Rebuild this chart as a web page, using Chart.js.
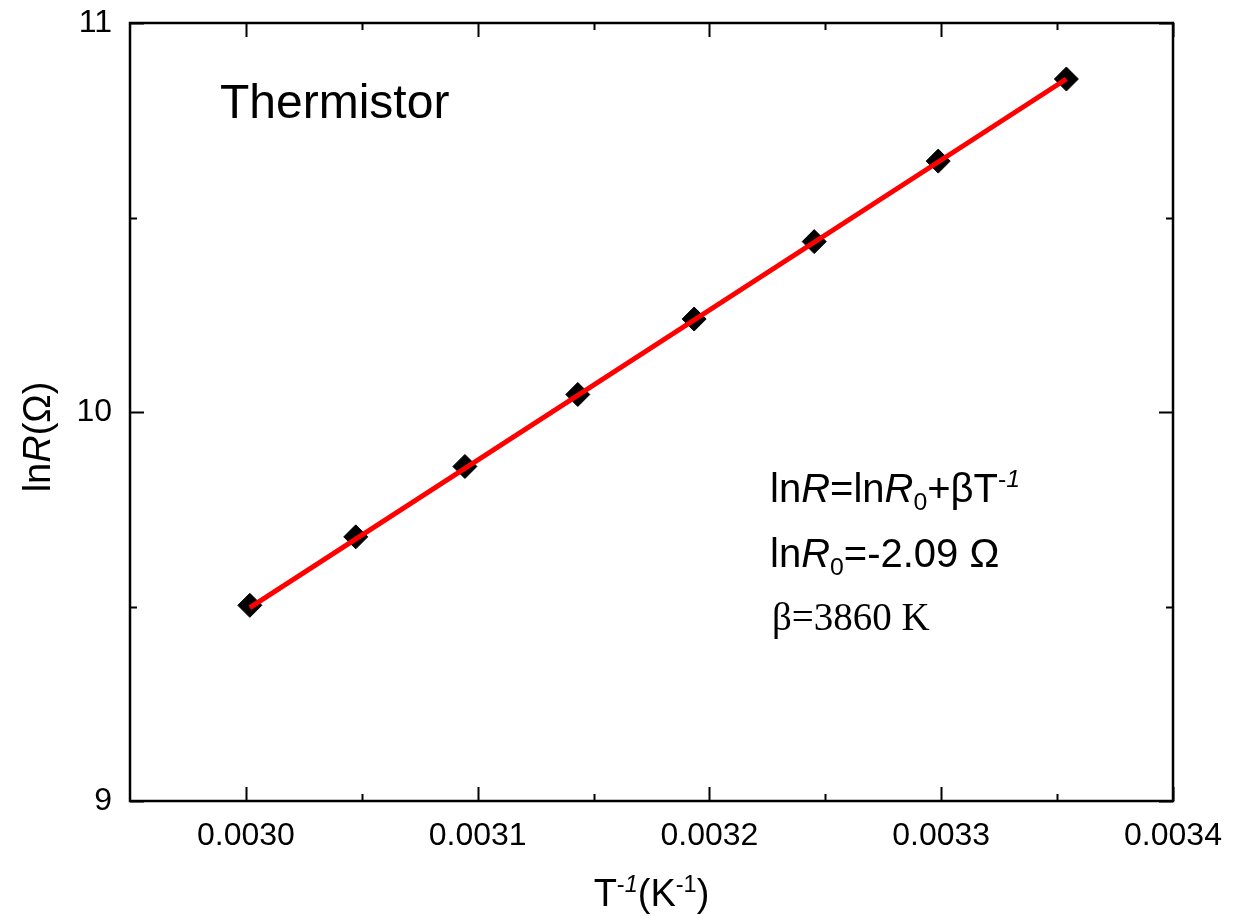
<!DOCTYPE html>
<html>
<head>
<meta charset="utf-8">
<script src="https://cdn.jsdelivr.net/npm/chart.js@4.4.1/dist/chart.umd.min.js"></script>
<style>
  html, body { margin: 0; padding: 0; background: #fff; }
  #wrap { width: 1237px; height: 916px; }
</style>
</head>
<body>
<div id="wrap"><canvas id="chart" width="1237" height="916"></canvas></div>
<script>
// 1/T (K^-1) vs ln R for the thermistor, 60 °C down to 25 °C
const invT = [0.0030017, 0.0030474, 0.0030945, 0.0031432, 0.0031934, 0.0032452, 0.0032987, 0.0033540];
const lnR = [9.503, 9.679, 9.860, 10.045, 10.239, 10.438, 10.645, 10.856];

// linear fit lnR = lnR0 + beta / T, drawn between the end points
const fitX = [0.0030017, 0.0033540];
const fitY = [9.497, 10.856];

const xTicks = [0.0030, 0.0031, 0.0032, 0.0033, 0.0034];
const xMinor = [0.00305, 0.00315, 0.00325, 0.00335];
const yTicks = [9, 10, 11];
const yMinor = [9.5, 10.5];

const SANS = '"Liberation Sans", Arial, sans-serif';
const SERIF = '"Liberation Serif", "Times New Roman", serif';

function runFont(r, size) {
  const fs = (r.sub || r.sup) ? size * 0.62 : size;
  return `${r.italic ? 'italic ' : ''}${fs}px ${r.family || SANS}`;
}

function measureRuns(ctx, runs, size) {
  let w = 0;
  for (const r of runs) {
    ctx.font = runFont(r, size);
    w += ctx.measureText(r.t).width;
  }
  return w;
}

function drawRuns(ctx, x, y, runs, size) {
  let cx = x;
  for (const r of runs) {
    ctx.font = runFont(r, size);
    const dy = r.sub ? size * 0.2 : r.sup ? -size * 0.38 : 0;
    ctx.fillText(r.t, cx, y + dy);
    cx += ctx.measureText(r.t).width;
  }
}

const xTitle = [{ t: 'T' }, { t: '-', sup: true }, { t: '1', sup: true, italic: true }, { t: '(K' }, { t: '-1', sup: true }, { t: ')' }];
const yTitle = [{ t: 'ln' }, { t: 'R', italic: true }, { t: '(Ω)' }];
const eqLines = [
  [{ t: 'ln' }, { t: 'R', italic: true }, { t: '=ln' }, { t: 'R', italic: true }, { t: '0', sub: true }, { t: '+βT' }, { t: '-', sup: true }, { t: '1', sup: true, italic: true }],
  [{ t: 'ln' }, { t: 'R', italic: true }, { t: '0', sub: true }, { t: '=-2.09 Ω' }],
  [{ t: 'β=3860 K', family: SERIF }],
];

// frame, inward ticks on all four sides, titles and the fit text
const framePlugin = {
  id: 'frame',
  afterDraw(chart) {
    const { ctx, chartArea: a, scales: { x, y } } = chart;
    ctx.save();
    ctx.strokeStyle = '#000';
    ctx.lineWidth = 2.5;
    ctx.strokeRect(a.left, a.top, a.right - a.left, a.bottom - a.top);

    ctx.lineWidth = 2;
    const major = 14, minor = 7;
    ctx.beginPath();
    const xTick = (v, len) => {
      const px = Math.round(x.getPixelForValue(v)) + 0.5;
      ctx.moveTo(px, a.bottom); ctx.lineTo(px, a.bottom - len);
      ctx.moveTo(px, a.top); ctx.lineTo(px, a.top + len);
    };
    const yTick = (v, len) => {
      const py = Math.round(y.getPixelForValue(v)) + 0.5;
      ctx.moveTo(a.left, py); ctx.lineTo(a.left + len, py);
      ctx.moveTo(a.right, py); ctx.lineTo(a.right - len, py);
    };
    xTicks.forEach((v) => xTick(v, major));
    xMinor.forEach((v) => xTick(v, minor));
    yTicks.forEach((v) => yTick(v, major));
    yMinor.forEach((v) => yTick(v, minor));
    ctx.stroke();

    ctx.fillStyle = '#000';
    ctx.textBaseline = 'alphabetic';
    ctx.textAlign = 'left';

    ctx.font = `48px ${SANS}`;
    ctx.fillText('Thermistor', 220, 118);

    const tw = measureRuns(ctx, xTitle, 38);
    drawRuns(ctx, (a.left + a.right) / 2 - tw / 2, 906, xTitle, 38);

    ctx.save();
    ctx.translate(50, 437);
    ctx.rotate(-Math.PI / 2);
    const yw = measureRuns(ctx, yTitle, 38);
    drawRuns(ctx, -yw / 2, 0, yTitle, 38);
    ctx.restore();

    drawRuns(ctx, 770, 502, eqLines[0], 40);
    drawRuns(ctx, 770, 567, eqLines[1], 40);
    drawRuns(ctx, 772, 630, eqLines[2], 39);
    ctx.restore();
  },
};

new Chart(document.getElementById('chart'), {
  type: 'scatter',
  data: {
    datasets: [
      {
        type: 'line',
        label: 'fit',
        data: fitX.map((v, i) => ({ x: v, y: fitY[i] })),
        borderColor: '#ff0000',
        borderWidth: 5,
        pointRadius: 0,
        fill: false,
        order: 0,
      },
      {
        label: 'lnR',
        data: invT.map((v, i) => ({ x: v, y: lnR[i] })),
        pointStyle: 'rectRot',
        pointRadius: 12,
        backgroundColor: '#000',
        borderColor: '#000',
        borderWidth: 1,
        order: 1,
      },
    ],
  },
  options: {
    responsive: false,
    animation: false,
    devicePixelRatio: 1,
    layout: { padding: { top: 23, right: 64, left: 0, bottom: 0 } },
    plugins: { legend: { display: false }, tooltip: { enabled: false } },
    scales: {
      x: {
        type: 'linear',
        min: 0.00295,
        max: 0.0034,
        afterBuildTicks: (s) => { s.ticks = xTicks.map((v) => ({ value: v })); },
        afterFit: (s) => { s.height = 115; s.paddingLeft = 0; s.paddingRight = 0; },
        grid: { display: false, drawTicks: false },
        border: { display: false },
        ticks: {
          color: '#000',
          padding: 16,
          font: { family: SANS, size: 32 },
          callback: (v) => Number(v).toFixed(4),
        },
      },
      y: {
        type: 'linear',
        min: 9,
        max: 11,
        afterBuildTicks: (s) => { s.ticks = yTicks.map((v) => ({ value: v })); },
        afterFit: (s) => { s.width = 130; s.paddingTop = 0; s.paddingBottom = 0; },
        grid: { display: false, drawTicks: false },
        border: { display: false },
        ticks: {
          color: '#000',
          padding: 18,
          font: { family: SANS, size: 32 },
          callback: (v) => String(v),
        },
      },
    },
  },
  plugins: [framePlugin],
});
</script>
</body>
</html>
